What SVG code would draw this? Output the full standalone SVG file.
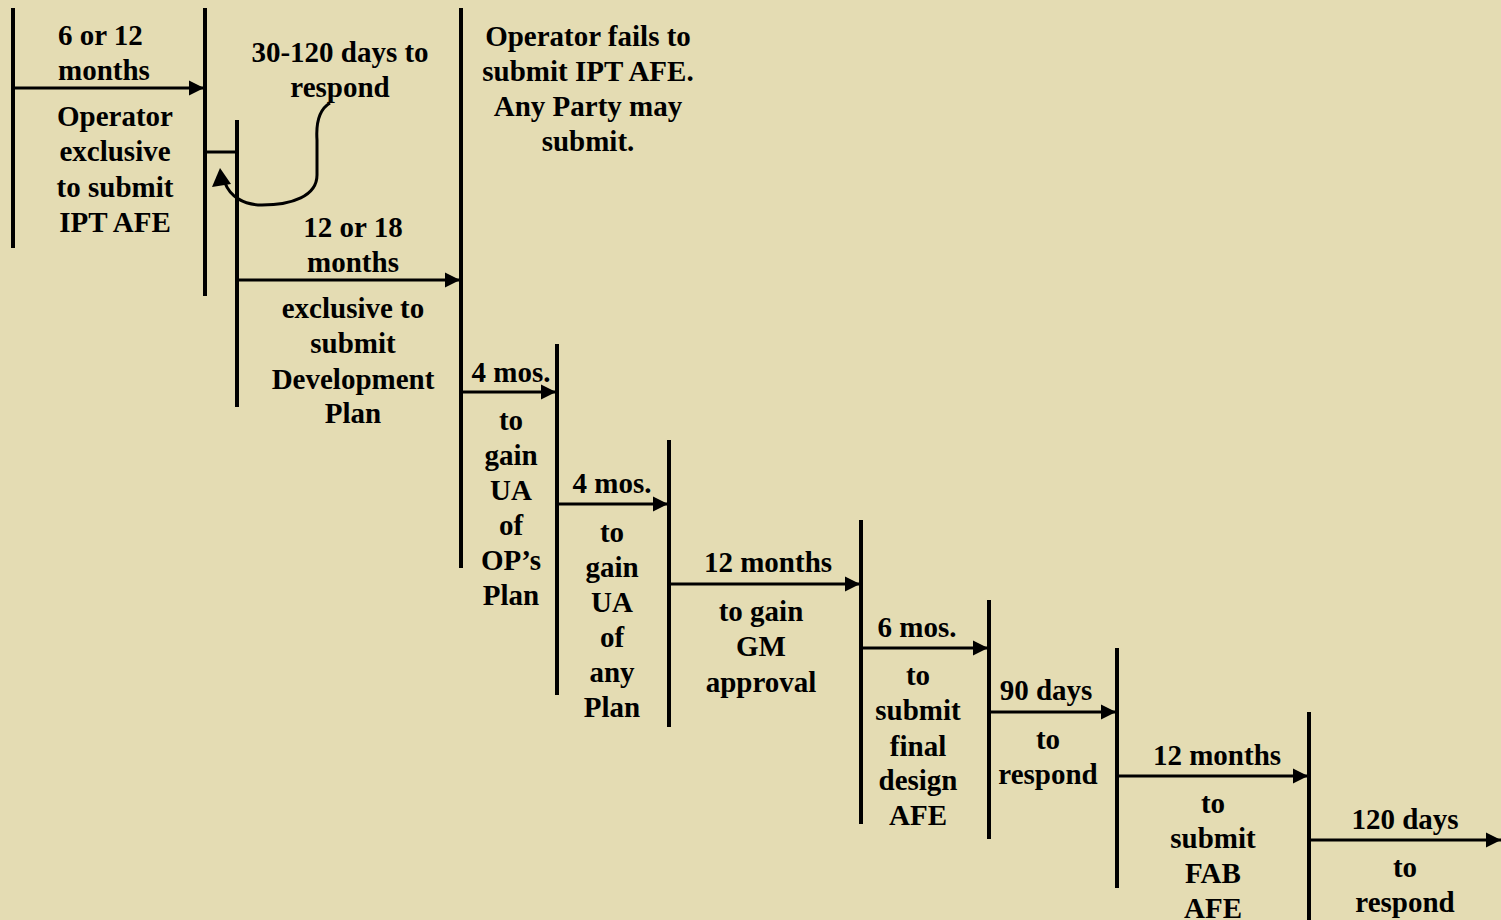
<svg xmlns="http://www.w3.org/2000/svg" width="1501" height="920" viewBox="0 0 1501 920">
<style>
.t{font-family:"Liberation Serif","Times New Roman",serif;font-weight:bold;font-size:29px;fill:#000;text-anchor:middle}
.l{text-anchor:start}
.v{stroke:#000;stroke-width:4;fill:none}
.h{stroke:#000;stroke-width:3;fill:none}
</style>
<defs>
<marker id="ah" markerUnits="userSpaceOnUse" markerWidth="16" markerHeight="16" refX="15" refY="7.5" orient="auto" overflow="visible">
<path d="M0,0 L15,7.5 L0,15 z" fill="#000"/>
</marker>
</defs>
<rect width="1501" height="920" fill="#E4DCB3"/>
<g id="bars">
<line class="v" x1="13" y1="8" x2="13" y2="248"/>
<line class="v" x1="205" y1="8" x2="205" y2="296"/>
<line class="v" x1="237" y1="120" x2="237" y2="407"/>
<line class="v" x1="461" y1="8" x2="461" y2="568"/>
<line class="v" x1="557" y1="344" x2="557" y2="695"/>
<line class="v" x1="669" y1="440" x2="669" y2="727"/>
<line class="v" x1="861" y1="520" x2="861" y2="824"/>
<line class="v" x1="989" y1="600" x2="989" y2="839"/>
<line class="v" x1="1117" y1="648" x2="1117" y2="888"/>
<line class="v" x1="1309" y1="712" x2="1309" y2="920"/>
</g>
<g id="connectors">
<line class="h" x1="13" y1="88" x2="204" y2="88" marker-end="url(#ah)"/>
<line class="h" x1="205" y1="152" x2="237" y2="152"/>
<line class="h" x1="237" y1="280" x2="460" y2="280" marker-end="url(#ah)"/>
<line class="h" x1="461" y1="392" x2="556" y2="392" marker-end="url(#ah)"/>
<line class="h" x1="557" y1="504" x2="668" y2="504" marker-end="url(#ah)"/>
<line class="h" x1="669" y1="584" x2="860" y2="584" marker-end="url(#ah)"/>
<line class="h" x1="861" y1="648" x2="988" y2="648" marker-end="url(#ah)"/>
<line class="h" x1="989" y1="712" x2="1116" y2="712" marker-end="url(#ah)"/>
<line class="h" x1="1117" y1="776" x2="1308" y2="776" marker-end="url(#ah)"/>
<line class="h" x1="1309" y1="840" x2="1501" y2="840" marker-end="url(#ah)"/>
<path class="h" d="M330,103 C318,110 316,125 317,140 L317,175 C317,196 292,205 262,205 C243,205 230,196 225,183"/>
<path d="M220,168 L212,187 L231,184 z" fill="#000"/>
</g>
<g id="n1">
<text class="t l" x="58" y="45">6 or 12</text>
<text class="t l" x="58" y="80">months</text>
<text class="t" x="115" y="126">Operator</text>
<text class="t" x="115" y="161">exclusive</text>
<text class="t" x="115" y="197">to submit</text>
<text class="t" x="115" y="232">IPT AFE</text>
</g>
<g id="n2">
<text class="t" x="340" y="62">30-120 days to</text>
<text class="t" x="340" y="97">respond</text>
</g>
<g id="n3">
<text class="t" x="353" y="237">12 or 18</text>
<text class="t" x="353" y="272">months</text>
<text class="t" x="353" y="318">exclusive to</text>
<text class="t" x="353" y="353">submit</text>
<text class="t" x="353" y="389">Development</text>
<text class="t" x="353" y="423">Plan</text>
</g>
<g id="n4">
<text class="t" x="588" y="46">Operator fails to</text>
<text class="t" x="588" y="81">submit IPT AFE.</text>
<text class="t" x="588" y="116">Any Party may</text>
<text class="t" x="588" y="151">submit.</text>
</g>
<g id="n5">
<text class="t" x="511" y="382">4 mos.</text>
<text class="t" x="511" y="430">to</text>
<text class="t" x="511" y="465">gain</text>
<text class="t" x="511" y="500">UA</text>
<text class="t" x="511" y="535">of</text>
<text class="t" x="511" y="570">OP’s</text>
<text class="t" x="511" y="605">Plan</text>
</g>
<g id="n6">
<text class="t" x="612" y="493">4 mos.</text>
<text class="t" x="612" y="542">to</text>
<text class="t" x="612" y="577">gain</text>
<text class="t" x="612" y="612">UA</text>
<text class="t" x="612" y="647">of</text>
<text class="t" x="612" y="682">any</text>
<text class="t" x="612" y="717">Plan</text>
</g>
<g id="n7">
<text class="t" x="768" y="572">12 months</text>
<text class="t" x="761" y="621">to gain</text>
<text class="t" x="761" y="656">GM</text>
<text class="t" x="761" y="692">approval</text>
</g>
<g id="n8">
<text class="t" x="917" y="637">6 mos.</text>
<text class="t" x="918" y="685">to</text>
<text class="t" x="918" y="720">submit</text>
<text class="t" x="918" y="756">final</text>
<text class="t" x="918" y="790">design</text>
<text class="t" x="918" y="825">AFE</text>
</g>
<g id="n9">
<text class="t" x="1046" y="700">90 days</text>
<text class="t" x="1048" y="749">to</text>
<text class="t" x="1048" y="784">respond</text>
</g>
<g id="n10">
<text class="t" x="1217" y="765">12 months</text>
<text class="t" x="1213" y="813">to</text>
<text class="t" x="1213" y="848">submit</text>
<text class="t" x="1213" y="883">FAB</text>
<text class="t" x="1213" y="918">AFE</text>
</g>
<g id="n11">
<text class="t" x="1405" y="829">120 days</text>
<text class="t" x="1405" y="877">to</text>
<text class="t" x="1405" y="912">respond</text>
</g>
</svg>
